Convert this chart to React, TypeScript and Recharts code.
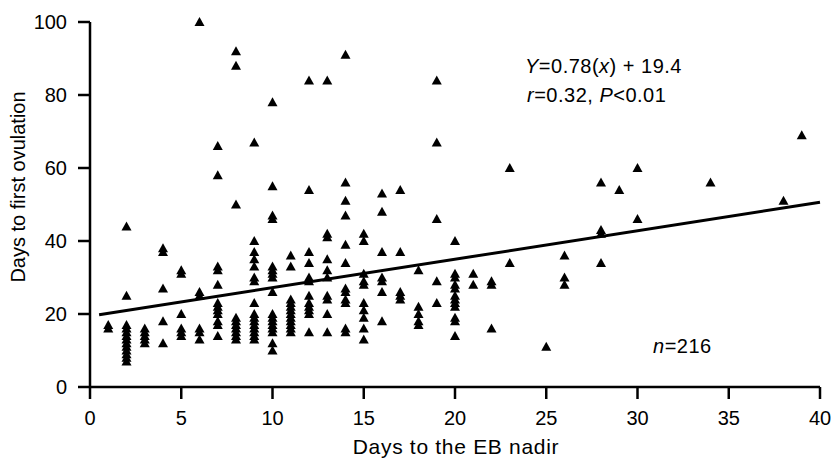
import React from "react";
import { ScatterChart, Scatter, XAxis, YAxis } from "recharts";

const FONT = "'Liberation Sans', Arial, Helvetica, sans-serif";

// days to the EB nadir (x) and the days to first ovulation seen at each of them (y)
const nadirDays = [1, 2, 3, 4, 5, 6, 7, 8, 9, 10, 11, 12, 13, 14, 15, 16, 17, 18, 19, 20, 21, 22, 23, 25, 26, 28, 29, 30, 34, 38, 39];
const ovulationDays = [
  [16, 17],
  [44, 25, 17, 16, 15, 14, 13, 12, 11, 10, 9, 8, 7],
  [16, 15, 14, 13, 12],
  [38, 37, 27, 18, 12],
  [32, 31, 20, 16, 15, 14],
  [100, 26, 25, 16, 15, 13],
  [66, 58, 33, 32, 28, 23, 22, 21, 20, 18, 17, 14],
  [92, 88, 50, 19, 18, 17, 16, 15, 14, 13],
  [67, 40, 37, 35, 33, 30, 29, 23, 20, 19, 18, 17, 16, 15, 14, 13],
  [78, 55, 47, 46, 33, 32, 31, 30, 26, 20, 19, 18, 17, 16, 15, 12, 10],
  [36, 33, 24, 23, 22, 21, 20, 19, 18, 17, 16, 15],
  [84, 54, 37, 34, 30, 29, 25, 23, 22, 21, 20, 15],
  [84, 42, 41, 35, 32, 30, 25, 24, 20, 15],
  [91, 56, 51, 47, 39, 34, 27, 26, 24, 23, 16, 15],
  [42, 40, 31, 29, 28, 23, 21, 19, 16, 13],
  [53, 48, 37, 30, 29, 26, 18],
  [54, 37, 26, 25, 24],
  [32, 22, 20, 18, 17],
  [84, 67, 46, 29, 23],
  [40, 31, 30, 28, 27, 25, 24, 23, 22, 19, 18, 14],
  [31, 28],
  [29, 28, 16],
  [60, 34],
  [11],
  [36, 30, 28],
  [56, 43, 42, 34],
  [54],
  [60, 46],
  [56],
  [51],
  [69],
];

// regression line Y = 0.78x + 19.4, end points
const fitX = [0.5, 40];
const fitY = [19.8, 50.6];

const xTicks = [0, 5, 10, 15, 20, 25, 30, 35, 40];
const yTicks = [0, 20, 40, 60, 80, 100];

const points = nadirDays.flatMap((d, i) => ovulationDays[i].map((v) => ({ x: d, y: v })));
const fitLine = fitX.map((x, i) => ({ x, y: fitY[i] }));

const Triangle = (props: any) => {
  const { cx, cy } = props;
  if (cx == null || cy == null) return <g />;
  return <polygon points={`${cx},${cy - 5} ${cx - 5},${cy + 4} ${cx + 5},${cy + 4}`} fill="#000" />;
};

const axisStyle = { stroke: "#000", strokeWidth: 2.5 };
const tickStyle = { fill: "#000", fontSize: 20, fontFamily: FONT };

export default function App() {
  return (
    <div style={{ position: "absolute", left: 0, top: 0, width: 834, height: 460, background: "#fff", fontFamily: FONT }}>
      <ScatterChart width={834} height={460} margin={{ top: 22, right: 14, bottom: 13, left: 0 }}>
        <XAxis
          type="number"
          dataKey="x"
          domain={[0, 40]}
          ticks={xTicks}
          interval={0}
          height={60}
          tickSize={12}
          tickMargin={12}
          axisLine={axisStyle}
          tickLine={axisStyle}
          tick={tickStyle}
        />
        <YAxis
          type="number"
          dataKey="y"
          domain={[0, 100]}
          ticks={yTicks}
          interval={0}
          width={90}
          tickSize={12}
          tickMargin={11}
          axisLine={axisStyle}
          tickLine={axisStyle}
          tick={tickStyle}
        />
        <Scatter data={points} shape={Triangle} isAnimationActive={false} />
        <Scatter
          data={fitLine}
          line={{ stroke: "#000", strokeWidth: 3 }}
          shape={() => <g />}
          isAnimationActive={false}
        />
      </ScatterChart>
      <svg width={834} height={460} style={{ position: "absolute", left: 0, top: 0, pointerEvents: "none" }}>
        <g fontFamily={FONT} fill="#000" fontSize={20}>
          <text x={25} y={187} textAnchor="middle" transform="rotate(-90, 25, 187)">
            Days to first ovulation
          </text>
          <text x={456} y={454} textAnchor="middle" fontSize={21} letterSpacing={0.7}>
            Days to the EB nadir
          </text>
          <text x={525} y={73} letterSpacing={0.5}>
            <tspan fontStyle="italic">Y</tspan>=0.78(<tspan fontStyle="italic">x</tspan>) + 19.4
          </text>
          <text x={527} y={102} letterSpacing={0.5}>
            <tspan fontStyle="italic">r</tspan>=0.32, <tspan fontStyle="italic">P</tspan>&lt;0.01
          </text>
          <text x={653} y={353} letterSpacing={0.5}>
            <tspan fontStyle="italic">n</tspan>=216
          </text>
        </g>
      </svg>
    </div>
  );
}
